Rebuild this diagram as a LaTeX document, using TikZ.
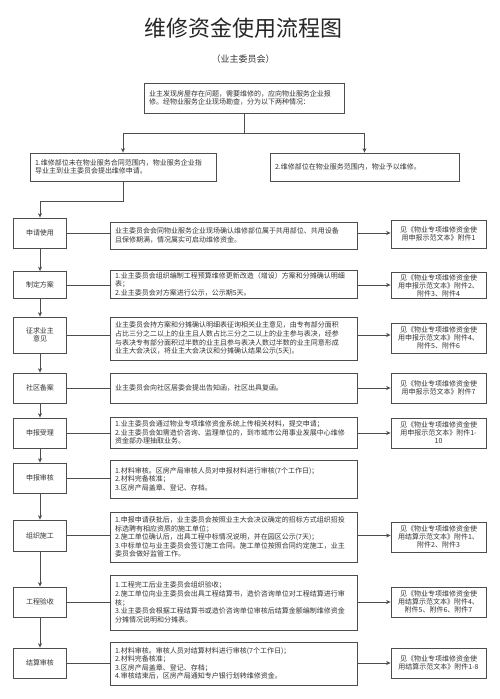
\documentclass[tikz,border=0pt]{standalone}
\usepackage{fontspec}
\setmainfont{Noto Sans CJK SC}
\usetikzlibrary{arrows.meta}

\definecolor{linegray}{HTML}{4D4D4D}
\definecolor{textgray}{HTML}{333333}

\tikzset{
	box/.style={draw=linegray, line width=0.8pt, text=textgray, font=\fontsize{7}{8.6}\selectfont},
	stage/.style={box, minimum width=53pt, minimum height=30pt, align=center, inner sep=1pt},
	detail/.style={box, text width=237pt, inner xsep=5pt, inner ysep=2pt, align=left},
	annex/.style={box, text width=89pt, inner xsep=3pt, inner ysep=1pt, align=center, minimum height=30pt, font=\fontsize{7}{8}\selectfont},
	case/.style={box, inner xsep=5pt, inner ysep=2pt, align=left, minimum height=28pt},
	flow/.style={draw=linegray, line width=0.8pt},
}

\begin{document}
\begin{tikzpicture}[x=1pt, y=-1pt, >={Stealth[length=4.5pt,width=4pt]}]
		\useasboundingbox (0,0) rectangle (500,699);

		\draw (243,28) node [text=black!85, font=\fontsize{22}{24}\selectfont] (title) {维修资金使用流程图};
		\draw (243,59) node [text=textgray, font=\fontsize{9}{10}\selectfont] (sub) {（业主委员会）};

		\draw (244,98) node [case, text width=190pt, minimum height=30pt] (start) {业主发现房屋存在问题，需要维修的，应向物业服务企业报\\修。经物业服务企业现场勘查，分为以下两种情况：};
		\draw (123,167) node [case, text width=176pt] (case1) {1.维修部位未在物业服务合同范围内，物业服务企业指\\导业主到业主委员会提出维修申请。};
		\draw (364.5,167) node [case, text width=179pt] (case2) {2.维修部位在物业服务范围内，物业予以维修。};

		\draw (40,233) node [stage] (apply) {申请使用};
		\draw (233.5,235.5) node [detail, minimum height=27pt] (m1) {业主委员会会同物业服务企业现场确认维修部位属于共用部位、共用设备\\且保修期满，情况属实可启动维修资金。};
		\draw (438.5,234) node [annex, minimum height=28pt] (r1) {见《物业专项维修资金使\\用申报示范文本》附件1};

		\draw (40,285) node [stage, minimum height=27pt] (plan) {制定方案};
		\draw (233.5,284) node [detail, minimum height=28pt] (m2) {1.业主委员会组织编制工程预算维修更新改造（增设）方案和分摊确认明细\\表；\\2.业主委员会对方案进行公示，公示期5天。};
		\draw (438.5,285.5) node [annex, minimum height=26pt] (r2) {见《物业专项维修资金使\\用申报示范文本》附件2、\\附件3、附件4};

		\draw (40,335) node [stage, minimum height=36pt] (consult) {征求业主\\意见};
		\draw (233.5,338.5) node [detail, minimum height=43pt] (m3) {业主委员会持方案和分摊确认明细表征询相关业主意见，由专有部分面积\\占比三分之二以上的业主且人数占比三分之二以上的业主参与表决，经参\\与表决专有部分面积过半数的业主且参与表决人数过半数的业主同意形成\\业主大会决议，将业主大会决议和分摊确认结果公示(5天)。};
		\draw (438.5,338) node [annex] (r3) {见《物业专项维修资金使\\用申报示范文本》附件4、\\附件5、附件6};

		\draw (40,388) node [stage] (record) {社区备案};
		\draw (233.5,388) node [detail, minimum height=30pt] (m4) {业主委员会向社区居委会提出告知函，社区出具复函。};
		\draw (438.5,388) node [annex] (r4) {见《物业专项维修资金使\\用申报示范文本》附件7};

		\draw (40,433) node [stage] (accept) {申报受理};
		\draw (233.5,432.5) node [detail, minimum height=31pt] (m5) {1.业主委员会通过物业专项维修资金系统上传相关材料，提交申请；\\2.业主委员会如需造价咨询、监理单位的，到市城市公用事业发展中心维修\\资金部办理抽取业务。};
		\draw (438.5,433) node [annex] (r5) {见《物业专项维修资金使\\用申报示范文本》附件1-\\10};

		\draw (40,478) node [stage] (review) {申报审核};
		\draw (233.5,479) node [detail, minimum height=38pt] (m6) {1.材料审核。区房产局审核人员对申报材料进行审核(7个工作日)；\\2.材料完备核准；\\3.区房产局盖章、登记、存档。};

		\draw (40,535.5) node [stage, minimum height=31pt] (build) {组织施工};
		\draw (233.5,537) node [detail, minimum height=50pt] (m7) {1.申报申请获批后，业主委员会按照业主大会决议确定的招标方式组织招投\\标选聘有相应资质的施工单位；\\2.施工单位确认后，出具工程中标情况说明，并在园区公示(7天)；\\3.中标单位与业主委员会签订施工合同。施工单位按照合同约定施工，业主\\委员会做好监管工作。};
		\draw (438.5,537) node [annex] (r7) {见《物业专项维修资金使\\用结算示范文本》附件1、\\附件2、附件3};

		\draw (40,602) node [stage] (check) {工程验收};
		\draw (233.5,602.5) node [detail, minimum height=55pt] (m8) {1.工程完工后业主委员会组织验收；\\2.施工单位向业主委员会出具工程结算书，造价咨询单位对工程结算进行审\\核；\\3.业主委员会根据工程结算书或造价咨询单位审核后结算金额编制维修资金\\分摊情况说明和分摊表。};
		\draw (438.5,602) node [annex] (r8) {见《物业专项维修资金使\\用结算示范文本》附件4、\\附件5、附件6、附件7};

		\draw (40,663) node [stage] (settle) {结算审核};
		\draw (233.5,663.5) node [detail, minimum height=43pt] (m9) {1.材料审核。审核人员对结算材料进行审核(7个工作日)；\\2.材料完备核准；\\3.区房产局盖章、登记、存档；\\4.审核结束后，区房产局通知专户银行划转维修资金。};
		\draw (438.5,663) node [annex] (r9) {见《物业专项维修资金使\\用结算示范文本》附件1-8};

		\coordinate (fork) at (244,133);
		\coordinate (turn) at (40,201);
		\draw [flow] (start) -- (fork);
		\draw [flow, ->] (fork) -| (case1);
		\draw [flow, ->] (fork) -| (case2);
		\draw [flow, ->] (case1) |- (turn) -- (apply);

		\foreach \a/\b in {apply/plan, plan/consult, consult/record, record/accept, accept/review, review/build, build/check, check/settle}
			\draw [flow, ->] (\a) -- (\b);

		\foreach \s/\m/\r in {apply/m1/r1, plan/m2/r2, consult/m3/r3, record/m4/r4, accept/m5/r5, build/m7/r7, check/m8/r8, settle/m9/r9} {
			\draw [flow] (\s) -- (\s -| \m.west);
			\draw [flow, ->] (\s -| \m.east) -- (\s -| \r.west);
		}
		\draw [flow] (review) -- (review -| m6.west);
	\end{tikzpicture}
\end{document}
